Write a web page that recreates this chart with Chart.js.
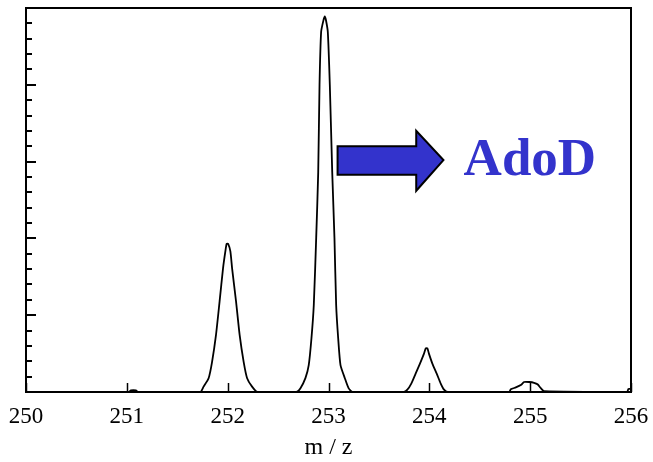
<!DOCTYPE html>
<html>
<head>
<meta charset="utf-8">
<script src="https://cdn.jsdelivr.net/npm/chart.js@4/dist/chart.umd.min.js"></script>
<style>
html,body{margin:0;padding:0;background:#fff;}
#c{display:block;}
</style>
</head>
<body>
<canvas id="c" width="653" height="462"></canvas>
<script>
// m/z values of the trace
const mz = [250.00, 251.02, 251.04, 251.09, 251.11,
  251.728, 251.761, 251.811, 251.845, 251.884, 251.920, 251.954, 251.977, 251.990, 252.005, 252.027, 252.044, 252.083, 252.119, 252.159, 252.193, 252.242, 252.295,
  252.682, 252.722, 252.771, 252.804, 252.831, 252.854, 252.878, 252.898, 252.911, 252.927, 252.950, 252.963, 252.975, 252.993, 253.013, 253.037, 253.059, 253.076, 253.096, 253.119, 253.162, 253.199, 253.238,
  253.745, 253.782, 253.821, 253.864, 253.907, 253.947, 253.965, 253.980, 253.996, 254.030, 254.073, 254.113, 254.146, 254.182,
  254.791, 254.808, 254.858, 254.907, 254.940, 254.990, 255.039, 255.073, 255.106, 255.139,
  255.960, 255.975, 256.00];
// intensities (arbitrary units, 0..5)
const intensity = [0, 0, 0.02, 0.02, 0,
  0, 0.07, 0.18, 0.39, 0.74, 1.18, 1.61, 1.83, 1.93, 1.93, 1.83, 1.61, 1.18, 0.74, 0.39, 0.18, 0.07, 0,
  0, 0.05, 0.18, 0.35, 0.70, 1.13, 2.01, 2.86, 4.00, 4.69, 4.84, 4.89, 4.84, 4.69, 4.00, 2.86, 2.01, 1.13, 0.70, 0.35, 0.18, 0.05, 0,
  0, 0.03, 0.11, 0.24, 0.37, 0.50, 0.57, 0.57, 0.50, 0.37, 0.24, 0.11, 0.03, 0,
  0, 0.035, 0.06, 0.09, 0.13, 0.13, 0.12, 0.10, 0.05, 0.01,
  0, 0.04, 0.04];
const xTicks = [250, 251, 252, 253, 254, 255, 256];
const yMajorTicks = [0, 1, 2, 3, 4, 5];
const xTitle = 'm / z';
const annotationText = 'AdoD';

const points = mz.map((x, i) => ({x: x, y: intensity[i]}));

const serif = "'Liberation Serif', 'Times New Roman', serif";

const decor = {
  id: 'decor',
  afterDraw(chart) {
    const ctx = chart.ctx;
    const xs = chart.scales.x, ys = chart.scales.y;
    const a = chart.chartArea;
    ctx.save();
    ctx.strokeStyle = '#000';
    // top and right border
    ctx.lineWidth = 2;
    ctx.beginPath();
    ctx.moveTo(a.left, a.top);
    ctx.lineTo(a.right, a.top);
    ctx.lineTo(a.right, a.bottom);
    ctx.stroke();
    // inward x ticks
    ctx.lineWidth = 1.5;
    xTicks.forEach(v => {
      const px = Math.round(xs.getPixelForValue(v)) + 0.5;
      ctx.beginPath();
      ctx.moveTo(px, a.bottom);
      ctx.lineTo(px, a.bottom - 9);
      ctx.stroke();
    });
    // inward y ticks, majors and minors
    ctx.lineWidth = 2;
    for (let i = 0; i < yMajorTicks.length - 1; i++) {
      for (let k = 0; k < 5; k++) {
        const v = yMajorTicks[i] + k * (yMajorTicks[i + 1] - yMajorTicks[i]) / 5;
        if (v === 0) continue;
        const py = Math.round(ys.getPixelForValue(v));
        ctx.beginPath();
        ctx.moveTo(a.left, py);
        ctx.lineTo(a.left + (k === 0 ? 10 : 6), py);
        ctx.stroke();
      }
    }
    // arrow (in data units)
    const X = v => xs.getPixelForValue(v), Y = v => ys.getPixelForValue(v);
    ctx.beginPath();
    ctx.moveTo(X(253.09), Y(3.20));
    ctx.lineTo(X(253.87), Y(3.20));
    ctx.lineTo(X(253.87), Y(3.40));
    ctx.lineTo(X(254.14), Y(3.02));
    ctx.lineTo(X(253.87), Y(2.62));
    ctx.lineTo(X(253.87), Y(2.83));
    ctx.lineTo(X(253.09), Y(2.83));
    ctx.closePath();
    ctx.fillStyle = '#3333CC';
    ctx.fill();
    ctx.lineWidth = 2;
    ctx.lineJoin = 'miter';
    ctx.strokeStyle = '#000';
    ctx.stroke();
    // label
    ctx.fillStyle = '#3333CC';
    ctx.font = 'bold 53px ' + serif;
    ctx.textBaseline = 'alphabetic';
    ctx.textAlign = 'left';
    ctx.fillText(annotationText, X(254.34), Y(2.826));
    ctx.restore();
  }
};

new Chart(document.getElementById('c'), {
  type: 'line',
  data: {
    datasets: [{
      data: points,
      borderColor: '#000',
      borderWidth: 1.8,
      pointRadius: 0,
      tension: 0.2,
      fill: false
    }]
  },
  options: {
    responsive: false,
    animation: false,
    devicePixelRatio: 1,
    layout: {padding: {left: 26, right: 22, top: 8, bottom: 0}},
    plugins: {legend: {display: false}, tooltip: {enabled: false}},
    scales: {
      x: {
        type: 'linear',
        min: 250, max: 256,
        afterBuildTicks: s => { s.ticks = xTicks.map(v => ({value: v})); },
        ticks: {font: {family: serif, size: 23}, color: '#000', padding: 11, maxRotation: 0},
        grid: {drawOnChartArea: false, drawTicks: false},
        border: {color: '#000', width: 2},
        title: {display: true, text: xTitle, font: {family: serif, size: 24}, color: '#000', padding: {top: 0, bottom: 0}},
        afterFit: s => { s.height = 70; s.paddingLeft = 0; s.paddingRight = 0; }
      },
      y: {
        min: 0, max: 5,
        ticks: {display: false},
        grid: {drawOnChartArea: false, drawTicks: false},
        border: {color: '#000', width: 2},
        afterFit: s => { s.width = 0; }
      }
    }
  },
  plugins: [decor]
});
</script>
</body>
</html>
